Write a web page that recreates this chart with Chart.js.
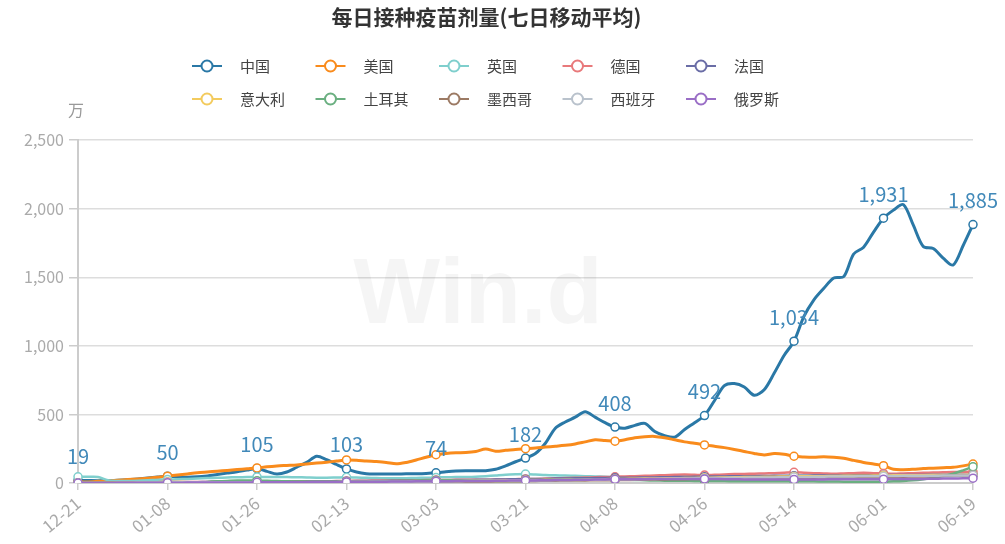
<!DOCTYPE html>
<html>
<head>
<meta charset="utf-8">
<title>每日接种疫苗剂量</title>
<script src="https://cdn.jsdelivr.net/npm/chart.js@4/dist/chart.umd.min.js"></script>
<style>
  html, body { margin: 0; padding: 0; background: #fff; }
  #wrap { width: 1005px; height: 544px; }
</style>
</head>
<body>
<div id="wrap"><canvas id="myChart" width="1005" height="544"></canvas></div>
<script>
// dates, every second day (12-21 .. 06-19)
const dates = [
  '12-21','12-23','12-25','12-27','12-29','12-31',
  '01-02','01-04','01-06','01-08','01-10','01-12','01-14','01-16','01-18','01-20','01-22','01-24','01-26','01-28','01-30',
  '02-01','02-03','02-05','02-07','02-09','02-11','02-13','02-15','02-17','02-19','02-21','02-23','02-25','02-27',
  '03-01','03-03','03-05','03-07','03-09','03-11','03-13','03-15','03-17','03-19','03-21','03-23','03-25','03-27','03-29','03-31',
  '04-02','04-04','04-06','04-08','04-10','04-12','04-14','04-16','04-18','04-20','04-22','04-24','04-26','04-28','04-30',
  '05-02','05-04','05-06','05-08','05-10','05-12','05-14','05-16','05-18','05-20','05-22','05-24','05-26','05-28','05-30',
  '06-01','06-03','06-05','06-07','06-09','06-11','06-13','06-15','06-17','06-19'
];

const countries = ['中国', '美国', '英国', '德国', '法国', '意大利', '土耳其', '墨西哥', '西班牙', '俄罗斯'];

// 7-day average doses, unit: 万
const china = [
  19, 18, 17, 18, 20, 24, 30, 36, 43, 50,
  45, 42, 45, 52, 62, 72, 82, 94, 105,
  85, 65, 80, 115, 150, 195, 170, 135, 103,
  80, 68, 66, 66, 66, 67, 68, 70, 74,
  82, 88, 90, 90, 90, 100, 125, 155, 182,
  215, 290, 400, 445, 480, 520, 480, 440, 408,
  400, 420, 435, 375, 345, 335, 390, 440, 492,
  600, 710, 725, 700, 640, 680, 800, 930, 1034,
  1215, 1336, 1420, 1495, 1505, 1670, 1720, 1830, 1931,
  1990, 2030, 1880, 1725, 1710, 1640, 1590, 1730, 1885
];
const usa = [
  5, 8, 12, 15, 20, 25, 30, 35, 42, 50,
  58, 66, 74, 80, 86, 92, 98, 104, 110,
  118, 124, 128, 132, 138, 145, 152, 160, 168,
  166, 160, 156, 150, 140, 150, 168, 188, 206,
  215, 220, 222, 230, 248, 232, 238, 245, 250,
  255, 262, 268, 275, 285, 300, 315, 310, 305,
  315, 330, 338, 340, 330, 315, 300, 290, 278,
  268, 258, 245, 230, 215, 205, 215, 210, 195,
  190, 188, 192, 188, 180, 165, 150, 138, 126,
  100, 97, 100, 105, 108, 112, 115, 125, 138
];
const uk = [
  45, 45, 44, 20, 15, 15, 17, 20, 22, 25,
  27, 30, 33, 36, 38, 40, 42, 43, 44,
  44, 44, 43, 42, 40, 38, 38, 40, 42,
  40, 38, 36, 35, 34, 35, 37, 38, 40,
  42, 43, 44, 46, 50, 55, 60, 63, 65,
  62, 58, 56, 55, 52, 50, 48, 45, 42,
  40, 40, 42, 44, 46, 48, 50, 50, 48,
  46, 45, 44, 44, 45, 46, 48, 50, 52,
  53, 54, 54, 53, 52, 50, 50, 49, 48,
  48, 50, 52, 53, 52, 50, 50, 52, 55
];
const germany = [
  1, 2, 3, 4, 4, 5, 5, 6, 6, 7,
  7, 8, 8, 8, 9, 9, 9, 10, 10,
  10, 11, 11, 12, 12, 13, 13, 14, 15,
  16, 17, 18, 18, 19, 20, 20, 21, 22,
  22, 23, 23, 24, 24, 25, 26, 28, 30,
  30, 32, 34, 36, 38, 40, 42, 44, 45,
  48, 50, 52, 55, 57, 60, 62, 60, 58,
  60, 62, 65, 66, 68, 70, 72, 75, 78,
  75, 72, 70, 68, 70, 72, 75, 72, 70,
  68, 70, 72, 74, 76, 78, 80, 80, 82
];
const france = [
  0, 0, 0, 0, 1, 1, 2, 2, 3, 4,
  5, 6, 6, 7, 7, 8, 8, 9, 9,
  10, 10, 11, 11, 12, 12, 12, 13, 13,
  14, 14, 15, 15, 16, 16, 17, 18, 19,
  20, 21, 22, 23, 24, 25, 26, 27, 28,
  29, 30, 32, 33, 34, 35, 36, 37, 38,
  38, 39, 40, 41, 42, 43, 44, 45, 46,
  47, 48, 49, 50, 50, 51, 52, 52, 53,
  53, 54, 54, 55, 55, 56, 56, 57, 57,
  58, 58, 59, 59, 60, 60, 60, 61, 61
];
const italy = [
  0, 0, 1, 2, 3, 4, 5, 6, 6, 7,
  7, 6, 5, 5, 5, 4, 4, 4, 5,
  5, 6, 6, 7, 7, 8, 8, 8, 9,
  10, 10, 11, 12, 12, 13, 14, 15, 16,
  16, 17, 17, 18, 18, 19, 20, 20, 21,
  22, 23, 24, 25, 26, 27, 28, 28, 29,
  30, 31, 32, 33, 34, 35, 36, 37, 38,
  39, 40, 42, 43, 44, 45, 46, 47, 48,
  49, 50, 50, 51, 52, 52, 53, 54, 55,
  56, 56, 57, 57, 58, 58, 59, 59, 60
];
const turkey = [
  0, 0, 0, 0, 0, 0, 0, 0, 0, 0,
  0, 0, 2, 8, 12, 15, 18, 18, 17,
  16, 14, 12, 11, 10, 10, 9, 9, 9,
  10, 10, 12, 14, 15, 16, 17, 18, 18,
  18, 17, 17, 16, 16, 15, 15, 15, 16,
  18, 20, 22, 24, 25, 26, 27, 26, 25,
  24, 22, 20, 18, 17, 16, 16, 15, 15,
  14, 14, 13, 13, 12, 12, 12, 12, 12,
  12, 12, 11, 11, 10, 10, 9, 9, 10,
  12, 15, 20, 28, 38, 50, 68, 92, 118
];
const mexico = [
  0, 0, 1, 1, 1, 2, 2, 3, 3, 3,
  3, 3, 2, 2, 2, 1, 1, 1, 1,
  1, 1, 2, 3, 3, 4, 5, 5, 5,
  5, 6, 6, 6, 7, 7, 7, 8, 8,
  9, 9, 10, 10, 11, 12, 12, 13, 14,
  15, 16, 17, 18, 18, 19, 20, 20, 21,
  22, 23, 24, 25, 26, 27, 28, 29, 30,
  31, 32, 33, 34, 35, 36, 37, 38, 38,
  38, 39, 40, 40, 41, 41, 42, 43, 44,
  45, 46, 47, 48, 50, 52, 54, 55, 56
];
const spain = [
  0, 0, 0, 0, 1, 2, 3, 4, 4, 5,
  5, 5, 5, 6, 6, 6, 5, 5, 4,
  4, 4, 4, 5, 5, 5, 6, 6, 7,
  8, 8, 9, 9, 10, 10, 11, 11, 12,
  12, 13, 14, 15, 16, 16, 17, 18, 18,
  19, 20, 21, 22, 22, 23, 24, 25, 26,
  27, 28, 29, 30, 31, 32, 33, 34, 35,
  36, 37, 38, 39, 40, 40, 41, 42, 43,
  44, 45, 46, 47, 48, 48, 49, 50, 50,
  51, 52, 52, 53, 53, 54, 55, 55, 56
];
const russia = [
  0, 0, 0, 0, 1, 1, 1, 2, 2, 2,
  2, 3, 3, 3, 3, 4, 4, 4, 5,
  5, 5, 6, 6, 6, 7, 7, 8, 8,
  9, 9, 10, 10, 11, 11, 12, 12, 13,
  13, 14, 14, 15, 15, 16, 17, 18, 18,
  19, 20, 21, 22, 23, 24, 25, 26, 27,
  27, 28, 28, 29, 29, 30, 30, 30, 30,
  29, 28, 27, 26, 25, 25, 25, 26, 26,
  26, 26, 26, 27, 27, 27, 28, 28, 28,
  29, 29, 30, 30, 31, 32, 33, 34, 35
];

const seriesValues = [china, usa, uk, germany, france, italy, turkey, mexico, spain, russia];
const colors = ['#2a78a6', '#f98b1c', '#7fcfcd', '#e8797b', '#6a6da6', '#f3cb5e', '#6aaf80', '#9c7a64', '#b9c2cc', '#9a6ec6'];

const fontFamily = "'Noto Sans CJK SC', 'Noto Sans', sans-serif";
Chart.defaults.font.family = fontFamily;

// every 9th point (18 days) gets a marker and a tick label
const STEP = 9;

const datasets = seriesValues.map((vals, i) => ({
    label: countries[i],
    data: vals,
    borderColor: colors[i],
    backgroundColor: colors[i],
    borderWidth: i < 2 ? 3 : 2.5,
    tension: 0.3,
    pointRadius: ctx => ctx.dataIndex % STEP === 0 ? 4 : 0,
    pointHoverRadius: 0,
    pointBackgroundColor: '#fff',
    pointBorderColor: colors[i],
    pointBorderWidth: 1.5,
    order: -i // later series are drawn on top
}));

// legend in a fixed 5-column grid, plus the unit label and watermark
const legendGrid = {
    id: 'legendGrid',
    beforeDatasetsDraw(chart) {
        const c = chart.ctx;
        c.save();
        c.font = 'bold 92px Arial, sans-serif';
        c.fillStyle = 'rgba(0,0,0,0.04)';
        c.textAlign = 'center';
        c.textBaseline = 'middle';
        c.fillText('Win.d', 478, 298);
        c.restore();
    },
    afterDraw(chart) {
        const c = chart.ctx;
        c.save();
        c.textBaseline = 'middle';
        c.textAlign = 'left';
        countries.forEach((name, i) => {
            const x = 192 + (i % 5) * 123.5;
            const y = 66 + Math.floor(i / 5) * 33;
            c.strokeStyle = colors[i];
            c.lineWidth = 2;
            c.beginPath();
            c.moveTo(x, y);
            c.lineTo(x + 30, y);
            c.stroke();
            c.beginPath();
            c.arc(x + 15, y, 5.5, 0, Math.PI * 2);
            c.fillStyle = '#fff';
            c.fill();
            c.stroke();
            c.fillStyle = '#444';
            c.font = '15px ' + fontFamily;
            c.fillText(name, x + 48, y);
        });
        c.fillStyle = '#999';
        c.textAlign = 'center';
        c.font = '16px ' + fontFamily;
        c.fillText('万', 76, 110);
        c.restore();
    }
};

// value labels above the China markers
const chinaLabels = {
    id: 'chinaLabels',
    afterDatasetsDraw(chart) {
        const meta = chart.getDatasetMeta(0);
        const c = chart.ctx;
        c.save();
        c.font = '20px ' + fontFamily;
        c.fillStyle = '#4189b9';
        c.textAlign = 'center';
        c.textBaseline = 'middle';
        meta.data.forEach((pt, i) => {
            if (i % STEP === 0) c.fillText(china[i].toLocaleString('en-US'), pt.x, pt.y - 24);
        });
        c.restore();
    }
};

const ctx = document.getElementById('myChart').getContext('2d');
const myChart = new Chart(ctx, {
    type: 'line',
    data: { labels: dates, datasets: datasets },
    options: {
        responsive: false,
        animation: false,
        layout: { padding: { left: 0, right: 32, top: 0, bottom: 0 } },
        plugins: {
            legend: { display: false },
            tooltip: { enabled: false },
            title: {
                display: true,
                text: '每日接种疫苗剂量(七日移动平均)',
                color: '#333',
                font: { size: 21, weight: 'bold' },
                padding: { top: 4, bottom: 111 }
            }
        },
        scales: {
            x: {
                grid: { drawOnChartArea: false, tickLength: 7, color: '#ccc', lineWidth: 1.5 },
                border: { color: '#ccc', width: 2 },
                ticks: {
                    autoSkip: false,
                    minRotation: 40,
                    maxRotation: 40,
                    color: '#aaa',
                    font: { size: 17 },
                    callback(value, index) {
                        return index % STEP === 0 ? this.getLabelForValue(value) : null;
                    }
                },
                afterFit(scale) { scale.height = 61; }
            },
            y: {
                min: 0,
                max: 2500,
                ticks: { stepSize: 500, color: '#aaa', font: { size: 16 }, padding: 5 },
                grid: { color: '#ddd', lineWidth: 1.5, tickLength: 9, tickColor: '#ccc' },
                border: { color: '#ccc', width: 2 },
                afterFit(scale) { scale.width = 78; }
            }
        }
    },
    plugins: [legendGrid, chinaLabels]
});
</script>
</body>
</html>
